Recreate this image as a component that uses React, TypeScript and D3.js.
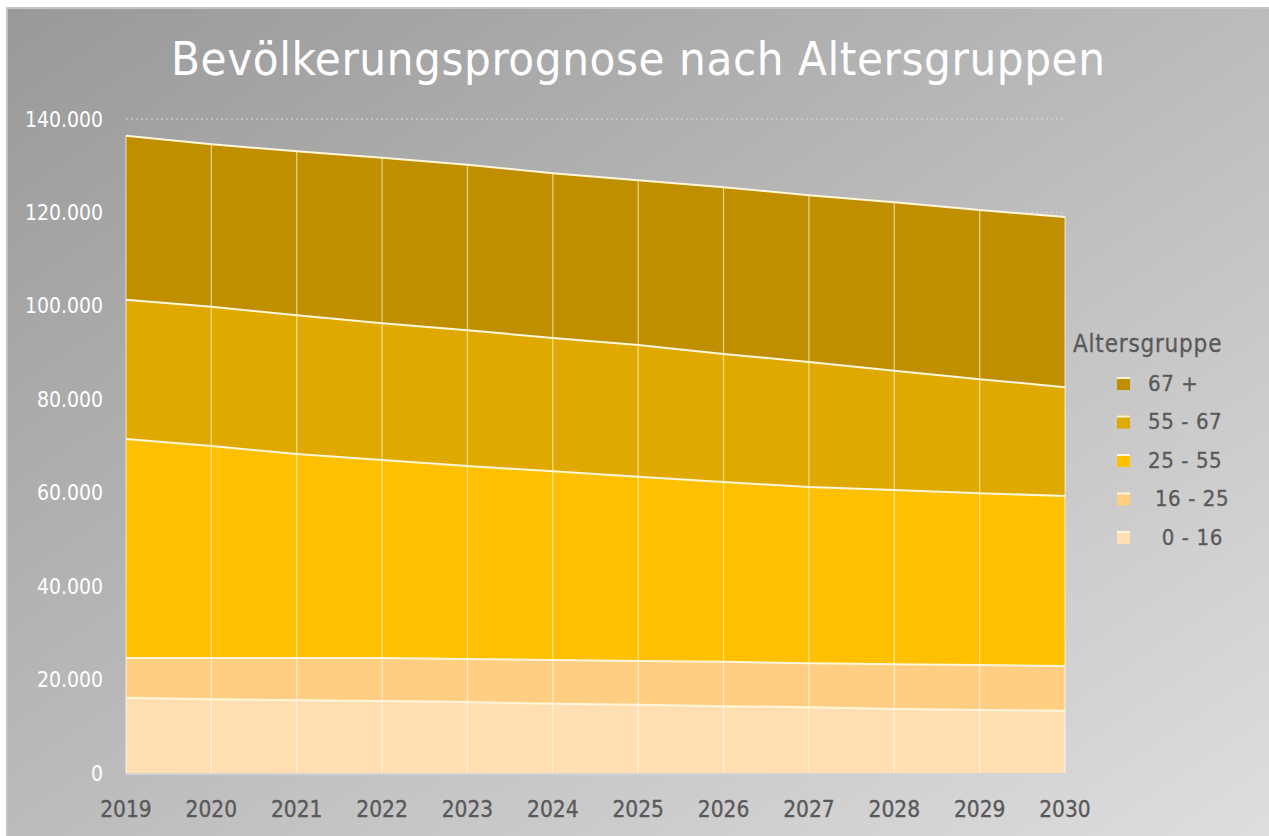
import { useEffect, useRef } from 'react';
import * as d3 from 'd3';

const width = 1269;
const height = 836;
const margin = { top: 119, bottom: 63, left: 126, right: 204 };

const years = [2019, 2020, 2021, 2022, 2023, 2024, 2025, 2026, 2027, 2028, 2029, 2030];
const groups = ['0 - 16', '16 - 25', '25 - 55', '55 - 67', '67 +'];
const legendLabels = ['67 +', '55 - 67', '25 - 55', ' 16 - 25', '  0 - 16'];
const colors = ['#ffdfb1', '#ffce82', '#ffc000', '#e0a900', '#c08f00'];

// values, persons per age group
const age0to16 = [16100, 15800, 15600, 15400, 15200, 14800, 14600, 14300, 14100, 13700, 13500, 13300];
const age16to25 = [8500, 8800, 9000, 9200, 9200, 9400, 9400, 9500, 9400, 9600, 9600, 9600];
const age25to55 = [46900, 45400, 43700, 42400, 41300, 40400, 39400, 38500, 37700, 37300, 36800, 36400];
const age55to67 = [29800, 29800, 29700, 29300, 29100, 28500, 28200, 27400, 26800, 25500, 24400, 23300];
const age67plus = [35100, 34800, 35100, 35400, 35400, 35300, 35300, 35700, 35700, 36100, 36200, 36400];
const yTicks = [0, 20000, 40000, 60000, 80000, 100000, 120000, 140000];

const fmt = d3.formatLocale({ decimal: ',', thousands: '.', grouping: [3], currency: ['', ' €'] }).format(',');
const font = '"DejaVu Sans Condensed", "DejaVu Sans", sans-serif';

function App() {
  const ref = useRef<SVGSVGElement>(null);

  useEffect(() => {
    const svg = d3.select(ref.current);
    svg.selectAll('*').remove();

    const all = [age0to16, age16to25, age25to55, age55to67, age67plus];
    const rows = years.map((y, i) => {
      const r: any = { year: y };
      groups.forEach((g, k) => (r[g] = all[k][i]));
      return r;
    });

    const x = d3.scaleLinear().domain([2019, 2030]).range([margin.left, width - margin.right]);
    const y = d3.scaleLinear().domain([0, 140000]).range([773, margin.top]);

    // background
    const defs = svg.append('defs');
    const grad = defs.append('linearGradient').attr('id', 'bg').attr('x1', '0').attr('y1', '0').attr('x2', '1').attr('y2', '1');
    grad.append('stop').attr('offset', '0%').attr('stop-color', '#999999');
    grad.append('stop').attr('offset', '100%').attr('stop-color', '#dedede');
    svg.append('rect').attr('width', width).attr('height', height).attr('fill', '#ffffff');
    svg.append('rect').attr('x', 7).attr('y', 8).attr('width', width - 6).attr('height', height - 7)
      .attr('fill', 'url(#bg)').attr('stroke', '#c4c4c4').attr('stroke-width', 2);

    // title
    svg.append('text').attr('x', 638).attr('y', 75).attr('text-anchor', 'middle')
      .attr('font-family', font).attr('font-size', 47).attr('fill', '#ffffff')
      .attr('textLength', 934).attr('lengthAdjust', 'spacing')
      .text('Bevölkerungsprognose nach Altersgruppen');

    // horizontal gridlines
    svg.append('g').selectAll('line').data(yTicks).join('line')
      .attr('x1', x(2019)).attr('x2', x(2030))
      .attr('y1', (d) => y(d)).attr('y2', (d) => y(d))
      .attr('stroke', '#d8d8d8').attr('stroke-dasharray', '2,3').attr('stroke-width', 1);

    // areas
    const stack = d3.stack<any>().keys(groups);
    const layers = stack(rows);
    const area = d3.area<any>().x((d) => x(d.data.year)).y0((d) => y(d[0])).y1((d) => y(d[1]));
    const line = d3.line<any>().x((d) => x(d.data.year)).y((d) => y(d[1]));

    svg.append('g').selectAll('path').data(layers).join('path')
      .attr('d', area as any).attr('fill', (d, i) => colors[i]);

    // vertical gridlines on top
    svg.append('g').selectAll('line').data(years).join('line')
      .attr('x1', (d) => x(d)).attr('x2', (d) => x(d))
      .attr('y1', y(0)).attr('y2', (d, i) => y(layers[4][i][1]))
      .attr('stroke', '#ffffff').attr('stroke-opacity', 0.55).attr('stroke-width', 1.3);

    svg.append('g').selectAll('path').data(layers).join('path')
      .attr('d', line as any).attr('fill', 'none')
      .attr('stroke', '#fff6dc').attr('stroke-width', 2);

    // x axis line
    svg.append('line').attr('x1', x(2019)).attr('x2', x(2030)).attr('y1', y(0) + 1).attr('y2', y(0) + 1)
      .attr('stroke', '#d4d4d4').attr('stroke-width', 2);

    // y tick labels
    svg.append('g').selectAll('text').data(yTicks).join('text')
      .attr('x', 103).attr('y', (d) => y(d)).attr('dy', '0.36em').attr('text-anchor', 'end')
      .attr('font-family', font).attr('font-size', 21).attr('fill', '#ffffff')
      .text((d) => fmt(d));

    // x tick labels
    svg.append('g').selectAll('text').data(years).join('text')
      .attr('x', (d) => x(d)).attr('y', 817).attr('text-anchor', 'middle')
      .attr('font-family', font).attr('font-size', 22.5).attr('fill', '#595959')
      .attr('stroke', '#595959').attr('stroke-width', 0.35)
      .text((d) => d);

    // legend
    const lg = svg.append('g');
    lg.append('text').attr('x', 1073).attr('y', 352).attr('font-family', font).attr('font-size', 24)
      .attr('letter-spacing', 0.8).attr('fill', '#595959').attr('stroke', '#595959').attr('stroke-width', 0.3)
      .text('Altersgruppe');
    const items = lg.selectAll('g.item').data(legendLabels).join('g').attr('class', 'item')
      .attr('transform', (d, i) => `translate(1117, ${383 + i * 38.5})`);
    items.append('rect').attr('x', 0).attr('y', -6).attr('width', 13).attr('height', 13)
      .attr('fill', (d, i) => colors[4 - i]);
    items.append('rect').attr('x', 0).attr('y', -6).attr('width', 13).attr('height', 2)
      .attr('fill', '#fff6dc');
    items.append('text').attr('x', 31).attr('dy', '0.36em').attr('font-family', font).attr('font-size', 22)
      .attr('letter-spacing', 0.6).attr('fill', '#595959').attr('stroke', '#595959').attr('stroke-width', 0.3)
      .style('white-space', 'pre').text((d) => d);
  }, []);

  return (
    <svg ref={ref} width={width} height={height}
      style={{ position: 'absolute', left: 0, top: 0, display: 'block' }} />
  );
}

export default App;
